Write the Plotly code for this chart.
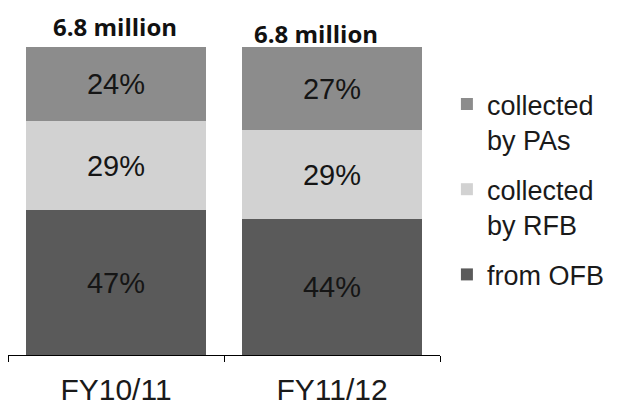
import plotly.graph_objects as go

categories = ["FY10/11", "FY11/12"]
from_ofb = [47, 44]
collected_rfb = [29, 29]
collected_pas = [24, 27]
totals = ["6.8 million", "6.8 million"]

series = [
    ("from OFB", from_ofb, "#5a5a5a", 3),
    ("collected<br>by RFB", collected_rfb, "#d2d2d2", 2),
    ("collected<br>by PAs", collected_pas, "#8c8c8c", 1),
]

fig = go.Figure()
for name, vals, col, rank in series:
    fig.add_trace(go.Bar(
        x=categories, y=vals, name=name, legendgroup=f"g{rank}", legendrank=rank,
        marker=dict(color=col, line=dict(width=0)),
        text=[f"{v}%" for v in vals], textposition="inside",
        insidetextanchor="middle",
        textfont=dict(family="Liberation Sans, Arial", size=29, color="#151515"),
        hoverinfo="skip",
    ))

shifts = [(-1, 2), (-16, -5)]
for cat, t, (xs, ys) in zip(categories, totals, shifts):
    fig.add_annotation(x=cat, y=100, text=f"<b>{t}</b>", showarrow=False,
                       yanchor="bottom", xshift=xs, yshift=ys,
                       font=dict(family="Open Sans", size=24, color="#111111"))

fig.update_layout(
    width=624, height=407,
    margin=dict(l=8, r=184, t=47, b=52),
    barmode="stack", bargap=0.167,
    plot_bgcolor="white", paper_bgcolor="white",
    font=dict(family="Liberation Sans, Arial", color="#222222"),
    legend=dict(
        traceorder="grouped", x=1.016, xanchor="left", y=0.893, yanchor="top",
        font=dict(size=27, color="#1a1a1a"), valign="top",
        tracegroupgap=12, bgcolor="rgba(0,0,0,0)",
    ),
    xaxis=dict(showline=True, linecolor="black", linewidth=1,
               ticks="outside", tickson="boundaries", ticklen=6,
               tickcolor="black", tickfont=dict(size=30, color="#1a1a1a"),
               ticklabelstandoff=8, automargin=False),
    yaxis=dict(visible=False, range=[0, 100], automargin=False),
)

fig.write_html("out.html", config={"displayModeBar": False},
               post_script="document.body.style.margin='0px';")
